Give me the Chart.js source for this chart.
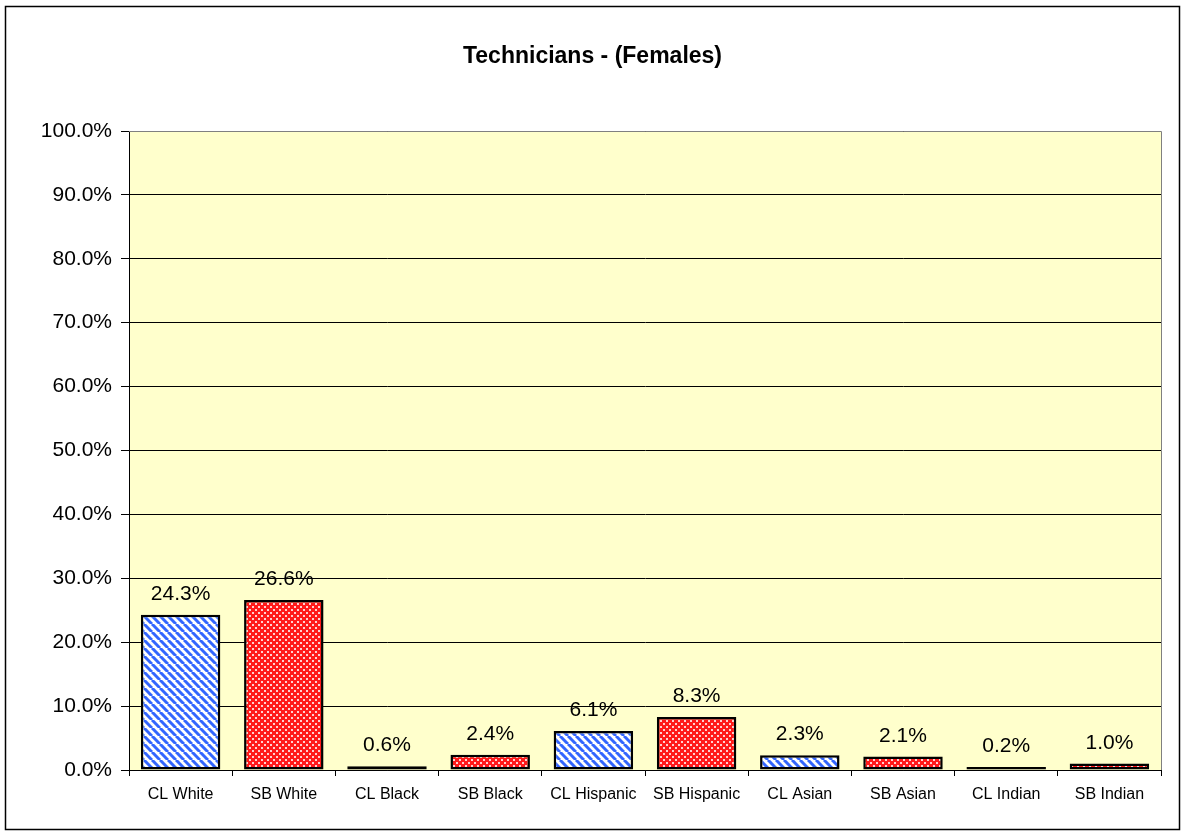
<!DOCTYPE html>
<html>
<head>
<meta charset="utf-8">
<script src="https://cdn.jsdelivr.net/npm/chart.js@4.4.0/dist/chart.umd.min.js"></script>
<style>
  html, body { margin: 0; padding: 0; background: #fff; }
  #wrap { width: 1185px; height: 834px; position: relative; }
</style>
</head>
<body>
<div id="wrap"><canvas id="chart" width="1185" height="834"></canvas></div>
<script>
const categories = ['CL White', 'SB White', 'CL Black', 'SB Black', 'CL Hispanic', 'SB Hispanic', 'CL Asian', 'SB Asian', 'CL Indian', 'SB Indian'];
const values = [24.3, 26.6, 0.6, 2.4, 6.1, 8.3, 2.3, 2.1, 0.2, 1.0];
const yTicks = [0, 10, 20, 30, 40, 50, 60, 70, 80, 90, 100];

const FONT = '"Liberation Sans", Arial, sans-serif';

// hatch fills like the old office patterns
function stripePattern() {
  const c = document.createElement('canvas');
  c.width = 8; c.height = 8;
  const g = c.getContext('2d');
  g.fillStyle = '#ffffff';
  g.fillRect(0, 0, 8, 8);
  g.strokeStyle = '#3366ff';
  g.lineWidth = 3;
  for (let k = -16; k <= 16; k += 8) {
    g.beginPath();
    g.moveTo(k, 0);
    g.lineTo(k + 8, 8);
    g.stroke();
  }
  return g.createPattern(c, 'repeat');
}

function dotPattern() {
  const c = document.createElement('canvas');
  c.width = 6; c.height = 6;
  const g = c.getContext('2d');
  g.fillStyle = '#ff1a1a';
  g.fillRect(0, 0, 6, 6);
  g.fillStyle = '#ffd0d0';
  g.fillRect(0, 0, 2, 2);
  g.fillRect(3, 3, 2, 2);
  return g.createPattern(c, 'repeat');
}

const blue = stripePattern();
const red = dotPattern();
const fills = categories.map(c => c.startsWith('CL') ? blue : red);

const frame = {
  id: 'frame',
  beforeDraw(chart) {
    const { ctx, chartArea: a } = chart;
    ctx.save();
    ctx.fillStyle = '#ffffcc';
    ctx.fillRect(a.left, a.top, a.right - a.left, a.bottom - a.top);
    ctx.restore();
  },
  afterDraw(chart) {
    const { ctx, chartArea: a } = chart;
    ctx.save();
    ctx.strokeStyle = '#808080';
    ctx.lineWidth = 1;
    ctx.beginPath();
    ctx.moveTo(a.left, a.top + 0.5);
    ctx.lineTo(a.right + 0.5, a.top + 0.5);
    ctx.lineTo(a.right + 0.5, a.bottom);
    ctx.stroke();
    ctx.strokeStyle = '#000';
    ctx.lineWidth = 1.5;
    ctx.strokeRect(5.5, 6.5, 1174, 823);
    ctx.restore();
  }
};

const barLabels = {
  id: 'barLabels',
  afterDatasetsDraw(chart) {
    const { ctx } = chart;
    const meta = chart.getDatasetMeta(0);
    ctx.save();
    ctx.font = '21px ' + FONT;
    ctx.fillStyle = '#000';
    ctx.textAlign = 'center';
    ctx.textBaseline = 'alphabetic';
    meta.data.forEach((bar, i) => {
      ctx.fillText(values[i].toFixed(1) + '%', bar.x, bar.y - 15);
    });
    ctx.restore();
  }
};

new Chart(document.getElementById('chart'), {
  type: 'bar',
  data: {
    labels: categories,
    datasets: [{
      data: values,
      backgroundColor: fills,
      borderColor: '#000',
      borderWidth: 2.5,
      borderSkipped: false,
      minBarLength: 3,
      barPercentage: 0.77,
      categoryPercentage: 1
    }]
  },
  options: {
    responsive: false,
    animation: false,
    layout: { padding: 0 },
    plugins: {
      legend: { display: false },
      tooltip: { enabled: false },
      title: {
        display: true,
        text: 'Technicians - (Females)',
        color: '#000',
        font: { family: FONT, size: 23, weight: 'bold' },
        padding: { top: 43.2, bottom: 60.2 }
      }
    },
    scales: {
      x: {
        offset: true,
        grid: { display: true, offset: true, drawOnChartArea: false, tickLength: 6, color: '#000' },
        border: { color: '#000', width: 1 },
        ticks: {
          color: '#000',
          padding: 9,
          maxRotation: 0,
          font: { family: FONT, size: 16 }
        },
        afterFit(s) { s.height = 64; }
      },
      y: {
        min: 0,
        max: 100,
        afterBuildTicks(s) { s.ticks = yTicks.map(v => ({ value: v })); },
        grid: { color: '#000', lineWidth: 1, tickLength: 8 },
        border: { color: '#000', width: 1 },
        ticks: {
          color: '#000',
          padding: 9,
          font: { family: FONT, size: 21 },
          callback: v => v.toFixed(1) + '%'
        },
        afterFit(s) { s.width = 129; }
      },
      // empty right axis only to leave the margin on the right side
      yRight: {
        position: 'right',
        min: 0,
        max: 100,
        grid: { display: false },
        border: { display: false },
        ticks: { display: false },
        afterFit(s) { s.width = 24; }
      }
    }
  },
  plugins: [frame, barLabels]
});
</script>
</body>
</html>
